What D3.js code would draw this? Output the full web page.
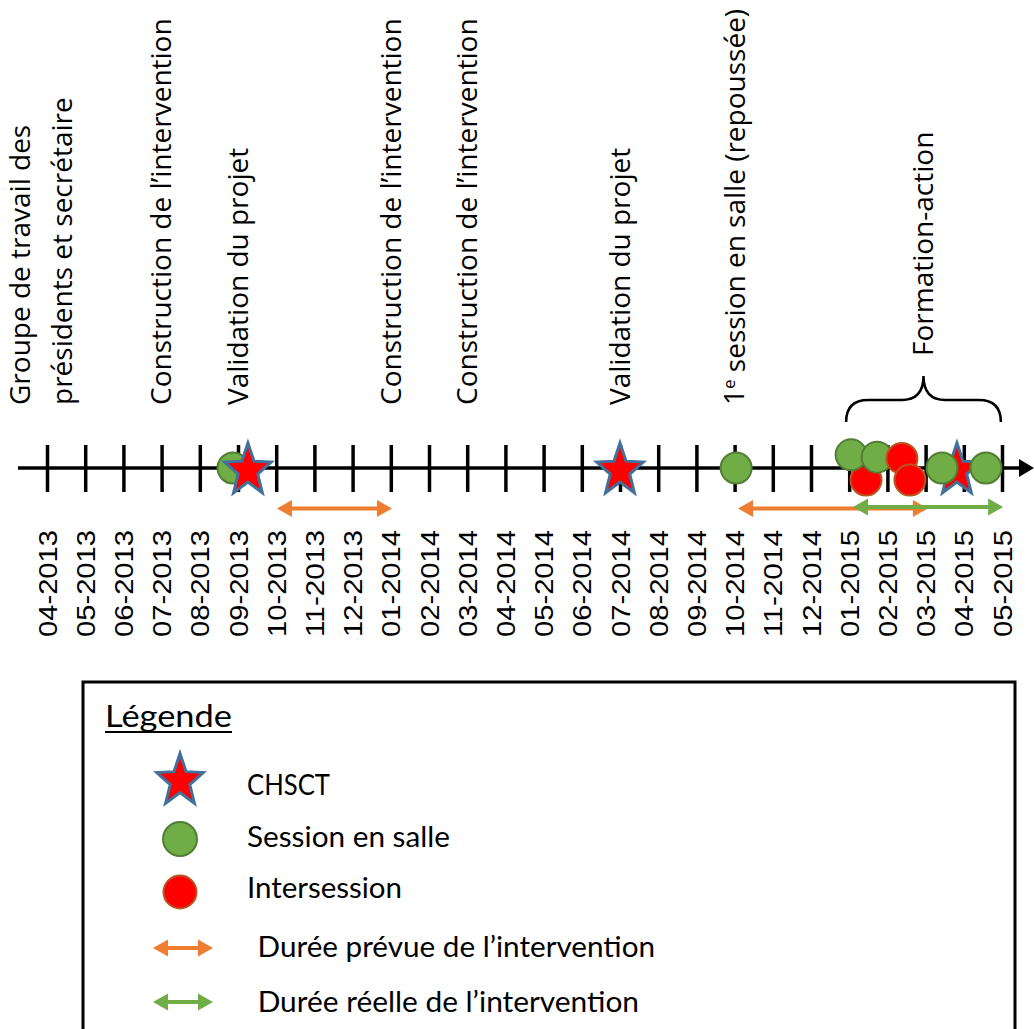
<!DOCTYPE html>
<html>
<head>
<meta charset="utf-8">
<script src="https://cdn.jsdelivr.net/npm/d3@7"></script>
<style>
  html, body { margin: 0; padding: 0; background: #fff; }
  svg { display: block; }
</style>
</head>
<body>
<svg id="chart" width="1034" height="1029"></svg>
<script>
// ---------- DATA ----------
const months = ["04-2013","05-2013","06-2013","07-2013","08-2013","09-2013","10-2013","11-2013","12-2013",
  "01-2014","02-2014","03-2014","04-2014","05-2014","06-2014","07-2014","08-2014","09-2014","10-2014",
  "11-2014","12-2014","01-2015","02-2015","03-2015","04-2015","05-2015"];

// month position = index counted from 04-2013 (fractions = within month)
const annotationTexts = [
  ["Groupe de travail des", "présidents et secrétaire"],
  ["Construction de l’intervention"],
  ["Validation du projet"],
  ["Construction de l’intervention"],
  ["Construction de l’intervention"],
  ["Validation du projet"],
  ["1|e| session en salle (repoussée)"],
  ["Formation-action"]
];
const annotationMonths = [-0.16, 3, 5, 9, 11, 15, 18, 22.94];
const bracedAnnotation = [false, false, false, false, false, false, false, true];

// events in drawing order: [type, month position, lane (-1 above .. 1 below)]
const events = [
  ["session", 4.87, 0],
  ["chsct", 5.26, 0],
  ["chsct", 15.0, 0],
  ["session", 18.04, 0],
  ["intersession", 21.44, 0.5],
  ["session", 21.05, -0.55],
  ["session", 21.73, -0.45],
  ["intersession", 22.38, -0.4],
  ["intersession", 22.59, 0.5],
  ["chsct", 23.82, 0],
  ["session", 23.43, 0],
  ["session", 24.58, 0]
];

const plannedDurations = [[6.02, 9.03], [18.09, 23.06]];
const actualDurations = [[21.1, 25.03]];
const formationSpan = [20.92, 24.97];

const legendLabels = ["CHSCT", "Session en salle", "Intersession", " Durée prévue de l’intervention", " Durée réelle de l’intervention"];
const legendTitle = "Légende";

// ---------- STYLE ----------
const C = {
  green: "#70ad47", greenStroke: "#507e32",
  red: "#ff0000", redStroke: "#b8561f",
  starStroke: "#41719c",
  orange: "#ed7d31"
};

const svg = d3.select("#chart");
const x = d3.scaleLinear().domain([0, 25]).range([47, 1002]);
const axisY = 468;
const lane = d3.scaleLinear().domain([-1, 1]).range([axisY - 24, axisY + 24]);

function starPath(cx, cy, rx, ry, inner) {
  const pts = [];
  for (let i = 0; i < 10; i++) {
    const a = -Math.PI / 2 + i * Math.PI / 5;
    const k = i % 2 === 0 ? 1 : inner;
    pts.push([cx + Math.cos(a) * rx * k, cy + Math.sin(a) * ry * k]);
  }
  return "M" + pts.map(p => p.join(",")).join("L") + "Z";
}
function drawStar(g, cx, cy) {
  g.append("path").attr("d", starPath(cx, cy, 24.5, 27.5, 0.42))
    .attr("fill", C.red).attr("stroke", C.starStroke).attr("stroke-width", 3)
    .attr("stroke-linejoin", "miter");
}
function drawDot(g, cx, cy, type, r) {
  g.append("circle").attr("cx", cx).attr("cy", cy).attr("r", r)
    .attr("fill", type === "session" ? C.green : C.red)
    .attr("stroke", type === "session" ? C.greenStroke : C.redStroke)
    .attr("stroke-width", 2);
}
function drawDoubleArrow(g, x0, x1, y, color) {
  const hl = 15, hh = 8.5, sw = 4;
  g.append("line").attr("x1", x0 + hl - 2).attr("x2", x1 - hl + 2).attr("y1", y).attr("y2", y)
    .attr("stroke", color).attr("stroke-width", sw);
  g.append("path").attr("d", `M${x0},${y}L${x0 + hl},${y - hh}L${x0 + hl},${y + hh}Z`).attr("fill", color);
  g.append("path").attr("d", `M${x1},${y}L${x1 - hl},${y - hh}L${x1 - hl},${y + hh}Z`).attr("fill", color);
}

// ---------- AXIS ----------
const axisG = svg.append("g").attr("transform", `translate(0,${axisY})`);
// main line with arrow head
axisG.append("line").attr("x1", x(-0.76)).attr("x2", 1022).attr("y1", 0).attr("y2", 0)
  .attr("stroke", "#000").attr("stroke-width", 3.5);
axisG.append("path").attr("d", "M1034,0L1019,-9L1019,9Z").attr("fill", "#000");

const axis = d3.axisBottom(x).tickValues(d3.range(months.length))
  .tickFormat(i => months[i]).tickSizeOuter(0).tickSizeInner(0);
const tickG = axisG.append("g").call(axis);
tickG.select(".domain").remove();
tickG.selectAll(".tick line").attr("y1", -23).attr("y2", 24)
  .attr("stroke", "#000").attr("stroke-width", 3.5);
tickG.selectAll(".tick text")
  .attr("x", 0).attr("y", 0).attr("dy", "0.36em")
  .attr("transform", "translate(0,62) rotate(-90)")
  .attr("text-anchor", "end")
  .attr("font-family", "'Liberation Sans', Arial, sans-serif")
  .attr("font-size", 25).attr("fill", "#000")
  .attr("textLength", 107).attr("lengthAdjust", "spacingAndGlyphs");

// ---------- DURATIONS ----------
const durG = svg.append("g");
plannedDurations.forEach(d => drawDoubleArrow(durG, x(d[0]), x(d[1]), 508.5, C.orange));
actualDurations.forEach(d => drawDoubleArrow(durG, x(d[0]), x(d[1]), 507, C.green));

// ---------- EVENTS ----------
const evG = svg.append("g");
events.forEach(e => {
  const cx = x(e[1]), cy = lane(e[2]);
  if (e[0] === "chsct") drawStar(evG, cx, cy + 2.5);
  else drawDot(evG, cx, cy, e[0], 15.5);
});

// ---------- BRACE ----------
const bx0 = x(formationSpan[0]), bx1 = x(formationSpan[1]), bxm = (bx0 + bx1) / 2;
const yEnd = 422, yMid = 400, yTip = 376;
svg.append("path")
  .attr("d", `M${bx0},${yEnd} Q${bx0},${yMid} ${bx0 + 22},${yMid} L${bxm - 22},${yMid} Q${bxm},${yMid} ${bxm},${yTip}
              Q${bxm},${yMid} ${bxm + 22},${yMid} L${bx1 - 22},${yMid} Q${bx1},${yMid} ${bx1},${yEnd}`)
  .attr("fill", "none").attr("stroke", "#000").attr("stroke-width", 2.5);

// ---------- TOP ANNOTATIONS ----------
const annG = svg.append("g")
  .attr("font-family", "'Open Sans', 'Noto Sans', sans-serif")
  .attr("font-size", 28).attr("fill", "#000");
annotationTexts.forEach((lines, i) => {
  const baseY = bracedAnnotation[i] ? yTip - 20 : 405;
  const t = annG.append("text")
    .attr("transform", `translate(${x(annotationMonths[i])},${baseY}) rotate(-90)`)
    .attr("text-anchor", "start");
  const n = lines.length;
  lines.forEach((ln, j) => {
    const dyEm = j === 0 ? (0.35 - (n - 1) * 0.75) : 1.5;
    const tl = t.append("tspan").attr("x", 0).attr("dy", dyEm + "em");
    if (ln.includes("|")) {
      const parts = ln.split("|");
      tl.text(parts[0]);
      t.append("tspan").attr("font-size", 17).attr("dy", "-0.55em").text(parts[1]);
      t.append("tspan").attr("dy", "0.34em").text(parts[2]);
    } else {
      tl.text(ln);
    }
  });
});

// ---------- LEGEND ----------
const lg = svg.append("g");
lg.append("rect").attr("x", 83).attr("y", 682).attr("width", 932).attr("height", 420)
  .attr("fill", "#fff").attr("stroke", "#000").attr("stroke-width", 3);

const legendFont = "Lato, 'Open Sans', sans-serif";
const titleT = lg.append("text").attr("x", 105).attr("y", 727)
  .attr("font-family", legendFont).attr("font-size", 30).attr("fill", "#000")
  .attr("textLength", 127).attr("lengthAdjust", "spacingAndGlyphs")
  .text(legendTitle);
lg.append("line").attr("x1", 105).attr("x2", 232).attr("y1", 732).attr("y2", 732)
  .attr("stroke", "#000").attr("stroke-width", 2.2);

const legendSymX = 180;
const legendRowY = [781, 839, 892, 948, 1002];
const legendTextY = [795, 847, 898, 957, 1012];
const legendTextX = [247, 247, 247, 250, 250];
const legendTextW = [83, 203, 155, 405, 389];

drawStar(lg, legendSymX, legendRowY[0]);
drawDot(lg, legendSymX, legendRowY[1], "session", 17);
drawDot(lg, legendSymX, legendRowY[2], "intersession", 16.5);
drawDoubleArrow(lg, 153, 213, legendRowY[3], C.orange);
drawDoubleArrow(lg, 153, 213, legendRowY[4], C.green);

legendLabels.forEach((lab, i) => {
  lg.append("text").attr("x", legendTextX[i]).attr("y", legendTextY[i])
    .attr("font-family", legendFont).attr("font-size", 28).attr("fill", "#000")
    .attr("xml:space", "preserve").style("white-space", "pre")
    .attr("textLength", legendTextW[i]).attr("lengthAdjust", "spacingAndGlyphs")
    .text(lab);
});
</script>
</body>
</html>
